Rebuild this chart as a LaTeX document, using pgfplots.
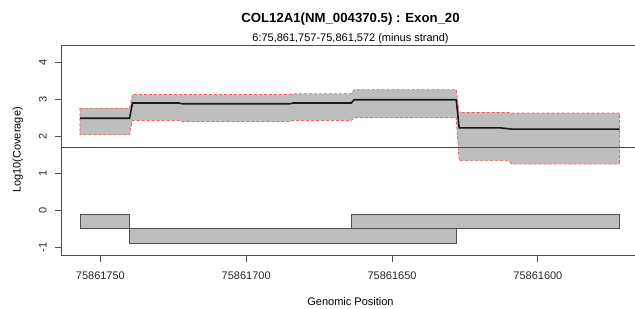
\documentclass[border=0pt]{standalone}
\usepackage{fontspec}
\setmainfont{Liberation Sans}
\usepackage{pgfplots}
\pgfplotsset{compat=1.18}
\definecolor{bandgray}{HTML}{BEBEBE}
\definecolor{dashred}{HTML}{F26060}
\definecolor{threshred}{rgb}{1,0,0}
\definecolor{boxgray}{HTML}{505050}
\begin{document}
\begin{tikzpicture}
\begin{axis}[
  at={(61.3bp,54bp)}, anchor=south west,
  scale only axis, width=578.4bp, height=210bp,
  x dir=reverse,
  xmin=-34.9, xmax=163.4, ymin=-1.21, ymax=4.47,
  xtick={150,100,50,0},
  xticklabels={75861750,75861700,75861650,75861600},
  ytick={-1,0,1,2,3,4},
  tick align=outside, major tick length=6.6bp,
  axis line style={boxgray, line width=0.9bp},
  tick style={boxgray, line width=0.9bp},
  xtick pos=bottom, ytick pos=left,
  /pgf/number format/assume math mode=true,
  tick label style={font=\fontsize{11bp}{13bp}\selectfont, text=black!85},
  xticklabel style={anchor=base, yshift=-18bp},
  yticklabel style={anchor=base, rotate=90},
  yticklabel shift=8bp,
]
% coverage band (mean +/- sd)
\addplot[fill=bandgray, draw=none] coordinates {
 (157,2.76) (140,2.76) (139,3.13) (85,3.13) (84,3.15) (64,3.15) (63,3.26) (28,3.26) (27,2.645) (10,2.645) (9,2.63) (-28,2.63)
 (-28,1.25) (9,1.25) (10,1.34) (27,1.34) (28,2.50) (63,2.50) (64,2.43) (84,2.43) (85,2.40) (122,2.40) (123,2.43) (139,2.43) (140,2.04) (157,2.04)
} -- cycle;
\addplot[dashred, line width=0.8bp, dash pattern=on 3bp off 2bp] coordinates {
 (157,2.76) (140,2.76) (139,3.13) (85,3.13) (84,3.15) (64,3.15) (63,3.26) (28,3.26) (27,2.645) (10,2.645) (9,2.63) (-28,2.63) (-28,1.25)
};
\addplot[dashred, line width=0.8bp, dash pattern=on 3bp off 2bp] coordinates {
 (157,2.76) (157,2.04) (140,2.04) (139,2.43) (123,2.43) (122,2.40) (85,2.40) (84,2.43) (64,2.43) (63,2.50) (28,2.50) (27,1.34) (10,1.34) (9,1.25) (-28,1.25)
};
% mean coverage
\addplot[black!90, line width=1.6bp] coordinates {
 (157,2.49) (140,2.49) (139,2.90) (123,2.90) (122,2.88) (85,2.88) (84,2.90) (64,2.90) (63,2.99) (28,2.99) (27,2.23) (13,2.23) (9,2.195) (-28,2.195)
};
% threshold log10(50)
\addplot[fill=threshred, draw=none] coordinates {(163.4,1.679) (-33.4,1.679) (-33.4,1.719) (163.4,1.719)} -- cycle;
% exon segments
\addplot[fill=bandgray, draw=boxgray, line width=0.9bp] coordinates {(157,-0.1) (140,-0.1) (140,-0.5) (157,-0.5)} -- cycle;
\addplot[fill=bandgray, draw=boxgray, line width=0.9bp] coordinates {(140,-0.5) (28,-0.5) (28,-0.9) (140,-0.9)} -- cycle;
\addplot[fill=bandgray, draw=boxgray, line width=0.9bp] coordinates {(64,-0.1) (-28,-0.1) (-28,-0.5) (64,-0.5)} -- cycle;
\end{axis}
\node[anchor=base, font=\fontsize{13.2bp}{15bp}\selectfont\bfseries] at (350.5bp,286bp) {COL12A1(NM\_004370.5) : Exon\_20};
\node[anchor=base, font=\fontsize{11bp}{13bp}\selectfont] at (350.5bp,267.5bp) {6:75,861,757-75,861,572 (minus strand)};
\node[anchor=base, font=\fontsize{11bp}{13bp}\selectfont] at (350.5bp,4bp) {Genomic Position};
\node[anchor=base, rotate=90, font=\fontsize{11bp}{13bp}\selectfont] at (20.5bp,159bp) {Log10(Coverage)};
\pgfresetboundingbox
\useasboundingbox (0,0) rectangle (635bp,309bp);
\end{tikzpicture}
\end{document}
